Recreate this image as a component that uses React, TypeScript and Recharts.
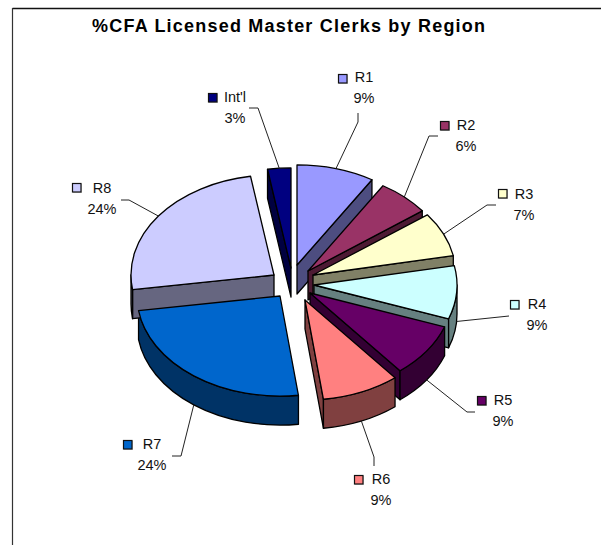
import React from "react";
import { PieChart, Pie } from "recharts";

const TITLE = "%CFA Licensed Master Clerks by Region";
const regions = ["R1", "R2", "R3", "R4", "R5", "R6", "R7", "R8", "Int'l"];
const shares = [8.7, 5.9, 7.1, 8.5, 8.6, 8.7, 24.49, 24.49, 2.6];
const colors = ["#9999FF", "#993366", "#FFFFCC", "#CCFFFF", "#660066", "#FF8080", "#0066CC", "#CCCCFF", "#000080"];
const wallColors = ["#4D4D80", "#4D1A33", "#808066", "#668080", "#330033", "#804040", "#003366", "#666680", "#000040"];

// Explosion offset of every slice from the pie centre
const explode = [[5, -18], [16, -12], [21, -8], [22, 2], [18, 10], [13, 17], [-12, 13], [-18, -8], [-1, -15]];
// Label layout: legend key centre, text centre x, first line centre y, leader elbow and end
const labelBoxes = [
  { key: [343, 79], tx: 364, ty: 77, elbow: [358, 122], end: [358, 113] },
  { key: [445, 126], tx: 466, ty: 125, elbow: [429, 136], end: [438, 136] },
  { key: [503, 194], tx: 524, ty: 194, elbow: [487, 205], end: [496, 205] },
  { key: [515, 305], tx: 537, ty: 304, elbow: [509, 316], end: [509, 316] },
  { key: [482, 401], tx: 503, ty: 400, elbow: [467, 412], end: [475, 412] },
  { key: [359, 480], tx: 381, ty: 479, elbow: [374, 457], end: [374, 466] },
  { key: [128, 445], tx: 152, ty: 444, elbow: [181, 456], end: [172, 456] },
  { key: [77, 188], tx: 102, ty: 188, elbow: [129, 200], end: [121, 200] },
  { key: [213, 98], tx: 235, ty: 97, elbow: [258, 108], end: [249, 108] },
];

const rows = regions.map((name, i) => ({ name, share: shares[i] }));

const FONT = "'Liberation Sans', Arial, sans-serif";
const SQUASH = 0.7;
const DEPTH = 29;
const STROKE = "#000";
const SW = 1.3;

const rad = (d: number) => (d * Math.PI) / 180;

function geometry(props: any) {
  const name = props.payload?.name ?? props.name;
  const i = regions.indexOf(name);
  const ax = props.cx + explode[i][0];
  const ay = props.cy + explode[i][1];
  const rx = props.outerRadius;
  const ry = props.outerRadius * SQUASH;
  const t1 = 90 - props.startAngle;
  const t2 = 90 - props.endAngle;
  const at = (t: number, drop = 0) => [ax + rx * Math.sin(rad(t)), ay - ry * Math.cos(rad(t)) + drop];
  return { i, ax, ay, rx, ry, t1, t2, at };
}

function TopFace(props: any) {
  const { i, ax, ay, rx, ry, t1, t2, at } = geometry(props);
  const [x1, y1] = at(t1);
  const [x2, y2] = at(t2);
  const large = t2 - t1 > 180 ? 1 : 0;
  return (
    <path
      d={`M${ax},${ay}L${x1},${y1}A${rx},${ry} 0 ${large} 1 ${x2},${y2}Z`}
      fill={colors[i]}
      stroke={STROKE}
      strokeWidth={SW}
      strokeLinejoin="round"
    />
  );
}

function WallFace(props: any) {
  const { i, ax, ay, rx, ry, t1, t2, at } = geometry(props);
  const parts: React.ReactNode[] = [];
  const face = (t: number, k: string) => {
    const [x, y] = at(t);
    parts.push(
      <path
        key={k}
        d={`M${ax},${ay}L${x},${y}L${x},${y + DEPTH}L${ax},${ay + DEPTH}Z`}
        fill={wallColors[i]}
        stroke={STROKE}
        strokeWidth={SW}
        strokeLinejoin="round"
      />
    );
  };
  if (t1 > 180 && t1 < 360) face(t1, "start");
  if (t2 > 0 && t2 < 180) face(t2, "end");
  const from = Math.max(t1, 90);
  const to = Math.min(t2, 270);
  if (to > from) {
    const [x1, y1] = at(from);
    const [x2, y2] = at(to);
    parts.push(
      <path
        key="rim"
        d={`M${x1},${y1}A${rx},${ry} 0 0 1 ${x2},${y2}L${x2},${y2 + DEPTH}A${rx},${ry} 0 0 0 ${x1},${y1 + DEPTH}Z`}
        fill={wallColors[i]}
        stroke={STROKE}
        strokeWidth={SW}
        strokeLinejoin="round"
      />
    );
  }
  return <g>{parts}</g>;
}

function SliceLabel(props: any) {
  const { i, t1, t2, at } = geometry(props);
  const box = labelBoxes[i];
  const mid = (t1 + t2) / 2;
  const [sx, sy] = at(mid, mid > 90 && mid < 270 ? DEPTH : 0);
  const pct = `${Math.round(shares[i])}%`;
  return (
    <g>
      <polyline
        points={`${sx},${sy} ${box.elbow[0]},${box.elbow[1]} ${box.end[0]},${box.end[1]}`}
        fill="none"
        stroke="#222"
        strokeWidth={1}
      />
      <rect x={box.key[0] - 4} y={box.key[1] - 4} width={9} height={9} fill="#ccc" />
      <rect x={box.key[0] - 4.5} y={box.key[1] - 4.5} width={8.5} height={8.5} fill={colors[i]} stroke="#111" strokeWidth={1.2} />
      <text x={box.tx} y={box.ty} textAnchor="middle" dominantBaseline="central" fontFamily={FONT} fontSize={14.5} fill="#111">
        {regions[i]}
      </text>
      <text x={box.tx} y={box.ty + 21} textAnchor="middle" dominantBaseline="central" fontFamily={FONT} fontSize={14.5} fill="#111">
        {pct}
      </text>
    </g>
  );
}

export default function App() {
  return (
    <div style={{ position: "absolute", left: 0, top: 0, width: 601, height: 545, background: "#fff", overflow: "hidden" }}>
      <svg width={601} height={545} style={{ position: "absolute", left: 0, top: 0 }}>
        <line x1={12.5} y1={8.5} x2={601} y2={8.5} stroke="#111" strokeWidth={1.4} />
        <line x1={12.5} y1={8} x2={12.5} y2={545} stroke="#333" strokeWidth={1.2} />
        <text x={92} y={32} fontFamily={FONT} fontWeight="bold" fontSize={18} fill="#000" textLength={393} lengthAdjust="spacing">
          {TITLE}
        </text>
      </svg>
      <div style={{ position: "absolute", left: 0, top: 0 }}>
        <PieChart width={601} height={545} margin={{ top: 0, right: 0, bottom: 0, left: 0 }}>
          <Pie
            data={rows}
            dataKey="share"
            nameKey="name"
            cx={292}
            cy={283}
            outerRadius={143}
            startAngle={90}
            endAngle={-270}
            stroke="none"
            isAnimationActive={false}
            shape={WallFace}
          />
          <Pie
            data={rows}
            dataKey="share"
            nameKey="name"
            cx={292}
            cy={283}
            outerRadius={143}
            startAngle={90}
            endAngle={-270}
            stroke="none"
            isAnimationActive={false}
            shape={TopFace}
            label={SliceLabel}
            labelLine={false}
          />
        </PieChart>
      </div>
    </div>
  );
}
